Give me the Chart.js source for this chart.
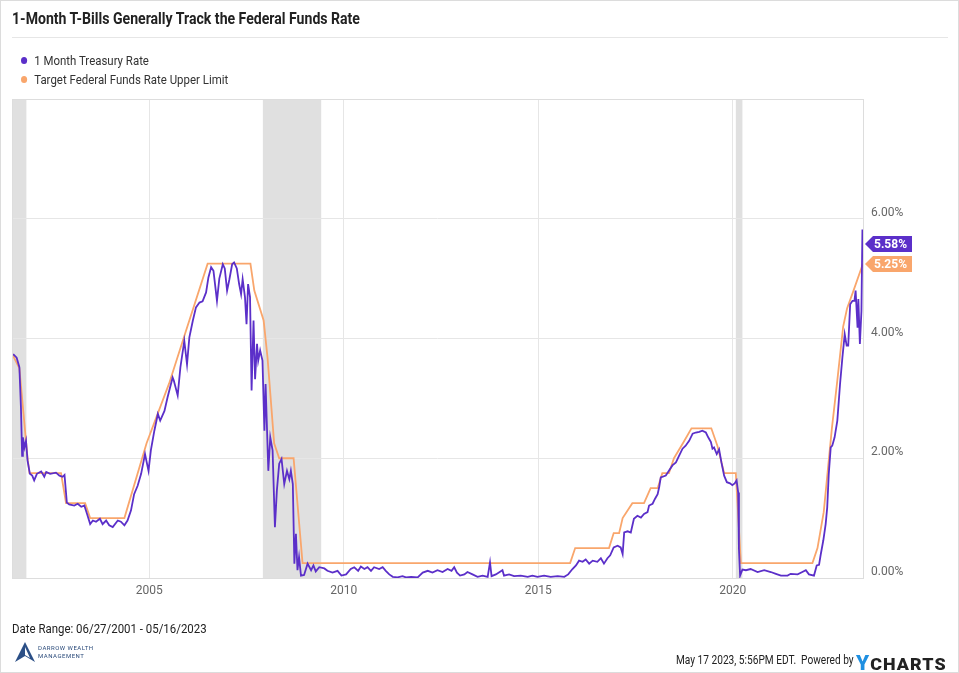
<!DOCTYPE html>
<html>
<head>
<meta charset="utf-8">
<script src="https://cdn.jsdelivr.net/npm/chart.js@4"></script>
<style>
  html, body { margin: 0; padding: 0; background: #fff; }
  #page { position: relative; width: 959px; height: 673px; box-sizing: border-box; border: 1px solid #dcdcdc; font-family: Roboto, sans-serif; color: #222; overflow: hidden; }
  #chart { position: absolute; left: 0; top: 0; }
  .txt { position: absolute; white-space: nowrap; transform-origin: 0 50%; }
  #title { left: 11px; top: 8px; font-size: 16px; font-weight: 700; transform: scaleX(0.88); }
  #rule { position: absolute; left: 11px; top: 36px; width: 936px; height: 1px; background: #e6e6e6; }
  .legend { left: 20px; font-size: 13px; color: #333; transform: scaleX(0.88); }
  .dot { display: inline-block; width: 7px; height: 7px; border-radius: 50%; margin-right: 8px; vertical-align: 1px; }
  #range { left: 11px; top: 620px; font-size: 13px; transform: scaleX(0.88); }
  #stamp { left: 675px; top: 651px; font-size: 13px; transform: scaleX(0.78); }
  #ycharts { position: absolute; left: 855px; top: 650px; font-size: 17px; font-weight: 900; letter-spacing: 1px; transform: scaleX(1.05); transform-origin: 0 50%; }
  #ycharts .y { color: #1e8fe1; font-size: 20px; }
  #darrow { position: absolute; left: 13px; top: 640px; }
  .dw { position: absolute; left: 37px; font-size: 6px; color: #2a4a7a; letter-spacing: 0.5px; }
</style>
</head>
<body>
<div id="page">
  <canvas id="chart" width="959" height="673"></canvas>
  <div id="title" class="txt">1-Month T-Bills Generally Track the Federal Funds Rate</div>
  <div id="rule"></div>
  <div class="txt legend" style="top:52px"><span class="dot" style="background:#5b2fc9"></span>1 Month Treasury Rate</div>
  <div class="txt legend" style="top:71px"><span class="dot" style="background:#f9a66c"></span>Target Federal Funds Rate Upper Limit</div>
  <div id="range" class="txt">Date Range: 06/27/2001 - 05/16/2023</div>
  <svg id="darrow" width="22" height="22" viewBox="0 0 22 22">
    <path d="M11 1 L21 21 L11 15 L1 21 Z" fill="#2b4f86"/>
    <path d="M11 6 L16 17 L11 14 Z" fill="#fff"/>
  </svg>
  <div class="dw" style="top:643px">DARROW WEALTH</div>
  <div class="dw" style="top:651px">MANAGEMENT</div>
  <div id="stamp" class="txt">May 17 2023, 5:56PM EDT.&nbsp; Powered by</div>
  <div id="ycharts"><span class="y">Y</span>CHARTS</div>
</div>
<script>
// 1 Month Treasury Rate (decimal year, percent)
const tbillDates = [
  2001.50, 2001.59, 2001.66, 2001.70, 2001.73, 2001.75, 2001.79, 2001.83, 2001.87, 2001.93,
  2001.99, 2002.04, 2002.11, 2002.22, 2002.30, 2002.35, 2002.45, 2002.60, 2002.69, 2002.77,
  2002.82, 2002.88, 2002.94, 2003.07, 2003.16, 2003.25, 2003.33, 2003.40, 2003.48, 2003.55,
  2003.63, 2003.73, 2003.80, 2003.89, 2003.97, 2004.06, 2004.19, 2004.27, 2004.36, 2004.44,
  2004.53, 2004.61, 2004.70, 2004.79, 2004.89, 2004.98, 2005.04, 2005.13, 2005.22, 2005.28,
  2005.39, 2005.47, 2005.60, 2005.63, 2005.73, 2005.80, 2005.90, 2005.97, 2006.03, 2006.12,
  2006.20, 2006.29, 2006.37, 2006.46, 2006.52, 2006.59, 2006.65, 2006.74, 2006.80, 2006.89,
  2006.94, 2007.00, 2007.06, 2007.13, 2007.18, 2007.25, 2007.31, 2007.36, 2007.40, 2007.46,
  2007.50, 2007.54, 2007.59, 2007.63, 2007.68, 2007.72, 2007.77, 2007.80, 2007.85, 2007.91,
  2007.96, 2007.99, 2008.06, 2008.11, 2008.17, 2008.23, 2008.28, 2008.34, 2008.40, 2008.47,
  2008.54, 2008.60, 2008.64, 2008.69, 2008.73, 2008.77, 2008.81, 2008.85, 2008.90, 2008.98,
  2009.07, 2009.16, 2009.22, 2009.28, 2009.37, 2009.50, 2009.58, 2009.71, 2009.84, 2009.94,
  2010.06, 2010.18, 2010.27, 2010.37, 2010.44, 2010.53, 2010.61, 2010.70, 2010.78, 2010.91,
  2011.00, 2011.08, 2011.17, 2011.26, 2011.38, 2011.51, 2011.60, 2011.73, 2011.90, 2012.03,
  2012.16, 2012.28, 2012.41, 2012.54, 2012.67, 2012.77, 2012.84, 2012.91, 2012.99, 2013.10,
  2013.18, 2013.31, 2013.44, 2013.57, 2013.70, 2013.76, 2013.80, 2013.91, 2014.08, 2014.12,
  2014.25, 2014.38, 2014.55, 2014.73, 2014.85, 2014.98, 2015.15, 2015.32, 2015.50, 2015.67,
  2015.77, 2015.88, 2015.97, 2016.05, 2016.14, 2016.22, 2016.31, 2016.40, 2016.52, 2016.61,
  2016.69, 2016.78, 2016.85, 2016.94, 2017.04, 2017.12, 2017.17, 2017.21, 2017.30, 2017.38,
  2017.46, 2017.55, 2017.64, 2017.72, 2017.81, 2017.85, 2017.94, 2018.00, 2018.07, 2018.11,
  2018.15, 2018.28, 2018.36, 2018.45, 2018.54, 2018.62, 2018.71, 2018.79, 2018.88, 2018.97,
  2019.05, 2019.14, 2019.22, 2019.31, 2019.37, 2019.44, 2019.48, 2019.52, 2019.59, 2019.65,
  2019.71, 2019.78, 2019.85, 2019.93, 2019.99, 2020.05, 2020.10, 2020.14, 2020.16, 2020.19,
  2020.25, 2020.34, 2020.46, 2020.64, 2020.81, 2020.98, 2021.11, 2021.24, 2021.41, 2021.49,
  2021.67, 2021.79, 2021.88, 2021.96, 2022.09, 2022.16, 2022.22, 2022.26, 2022.33, 2022.39,
  2022.43, 2022.47, 2022.52, 2022.56, 2022.62, 2022.69, 2022.76, 2022.82, 2022.88, 2022.93,
  2022.97, 2023.02, 2023.08, 2023.13, 2023.16, 2023.21, 2023.23, 2023.27, 2023.31, 2023.335,
  2023.35
];
const tbillRates = [
  3.74, 3.68, 3.52, 2.85, 2.04, 2.35, 2.18, 2.29, 1.96, 1.74,
  1.71, 1.63, 1.74, 1.78, 1.69, 1.77, 1.74, 1.76, 1.71, 1.69,
  1.72, 1.26, 1.23, 1.21, 1.24, 1.19, 1.21, 1.07, 0.90, 0.96,
  0.94, 0.99, 0.90, 0.96, 0.88, 0.85, 0.96, 0.94, 0.88, 0.96,
  1.13, 1.40, 1.54, 1.74, 2.07, 1.79, 2.13, 2.46, 2.74, 2.63,
  2.79, 3.02, 3.35, 3.30, 3.05, 3.52, 3.96, 3.57, 4.02, 4.30,
  4.52, 4.60, 4.62, 4.77, 5.02, 5.19, 5.13, 4.63, 5.00, 5.24,
  5.17, 4.80, 4.99, 5.24, 5.27, 5.17, 4.91, 4.74, 4.99, 4.69,
  4.24, 4.91, 4.69, 3.13, 4.30, 3.32, 3.91, 3.63, 3.80, 3.63,
  2.46, 3.24, 1.79, 2.35, 2.13, 0.85, 1.46, 1.91, 1.99, 1.57,
  1.79, 1.65, 1.79, 1.57, 0.24, 0.74, 0.13, 0.35, 0.04, 0.05,
  0.24, 0.13, 0.21, 0.11, 0.18, 0.16, 0.12, 0.09, 0.12, 0.04,
  0.06, 0.15, 0.18, 0.12, 0.19, 0.15, 0.18, 0.12, 0.18, 0.15,
  0.18, 0.12, 0.06, 0.02, 0.01, 0.03, 0.01, 0.02, 0.01, 0.09,
  0.12, 0.09, 0.13, 0.10, 0.15, 0.12, 0.18, 0.09, 0.04, 0.06,
  0.10, 0.06, 0.02, 0.04, 0.02, 0.26, 0.03, 0.06, 0.13, 0.04,
  0.06, 0.03, 0.04, 0.02, 0.04, 0.02, 0.04, 0.02, 0.03, 0.02,
  0.06, 0.15, 0.21, 0.29, 0.27, 0.31, 0.24, 0.29, 0.27, 0.33,
  0.24, 0.33, 0.38, 0.51, 0.54, 0.51, 0.40, 0.76, 0.78, 0.76,
  0.99, 1.04, 1.01, 1.07, 1.10, 1.21, 1.24, 1.32, 1.40, 1.52,
  1.68, 1.71, 1.79, 1.88, 1.93, 2.04, 2.16, 2.21, 2.29, 2.41,
  2.43, 2.44, 2.46, 2.43, 2.35, 2.27, 2.16, 2.18, 2.07, 2.15,
  1.93, 1.71, 1.60, 1.58, 1.55, 1.58, 1.63, 1.43, 0.49, 0.04,
  0.14, 0.13, 0.15, 0.10, 0.13, 0.10, 0.07, 0.04, 0.04, 0.07,
  0.06, 0.10, 0.13, 0.06, 0.04, 0.21, 0.22, 0.38, 0.63, 0.90,
  1.18, 1.74, 2.18, 2.21, 2.35, 2.63, 3.24, 3.68, 4.07, 3.88,
  3.88, 4.57, 4.63, 4.63, 4.80, 4.18, 4.66, 3.91, 4.46, 5.82,
  5.58
];

// Target Federal Funds Rate Upper Limit (corners of the line in the picture)
const fedDates = [
  2001.47, 2001.66, 2001.87, 2001.92, 2002.73, 2002.86, 2003.35, 2003.48, 2004.36, 2004.93,
  2005.51, 2005.88, 2006.50, 2007.60, 2007.70, 2007.94, 2008.04, 2008.21, 2008.34, 2008.71,
  2008.94, 2015.82, 2015.95, 2016.82, 2016.94, 2017.08, 2017.17, 2017.42, 2017.72, 2017.89,
  2018.07, 2018.19, 2018.36, 2018.49, 2018.72, 2018.94, 2019.45, 2019.61, 2019.78, 2020.08,
  2020.21, 2022.05, 2022.18, 2022.34, 2022.55, 2022.69, 2022.84, 2022.94, 2023.09, 2023.35
];
const fedRates = [
  3.75, 3.50, 2.00, 1.75, 1.75, 1.25, 1.25, 1.00, 1.00, 2.25,
  3.25, 4.00, 5.25, 5.25, 4.80, 4.30, 3.68, 2.25, 2.00, 2.00,
  0.25, 0.25, 0.50, 0.50, 0.75, 0.75, 1.00, 1.25, 1.25, 1.50,
  1.50, 1.75, 1.75, 2.00, 2.25, 2.50, 2.50, 2.20, 1.75, 1.75,
  0.25, 0.25, 0.50, 1.10, 2.50, 3.30, 4.20, 4.50, 4.77, 5.25
];

// Recessions (shaded)
const recessionStarts = [2001.20, 2007.92, 2020.08];
const recessionEnds = [2001.84, 2009.42, 2020.25];

const yearTicks = [2005, 2010, 2015, 2020];
const rateTicks = [0, 2, 4, 6];

const purple = "#5b2fc9";
const orange = "#f9a66c";

function toPoints(xs, ys) {
  return xs.map((x, i) => ({ x, y: ys[i] }));
}

const recessionBands = {
  id: "recessionBands",
  beforeDraw(chart) {
    const { ctx, chartArea, scales } = chart;
    ctx.save();
    ctx.fillStyle = "#e0e0e0";
    recessionStarts.forEach((start, i) => {
      const x0 = Math.max(scales.x.getPixelForValue(start), chartArea.left);
      const x1 = scales.x.getPixelForValue(recessionEnds[i]);
      ctx.fillRect(x0, chartArea.top, x1 - x0, chartArea.bottom - chartArea.top);
    });
    ctx.restore();
  },
  afterDraw(chart) {
    const { ctx, chartArea } = chart;
    ctx.save();
    ctx.strokeStyle = "#dddddd";
    ctx.lineWidth = 1;
    ctx.strokeRect(chartArea.left + 0.5, chartArea.top + 0.5, chartArea.right - chartArea.left, chartArea.bottom - chartArea.top);
    ctx.restore();
  }
};

// last-value tags at the right edge
const valueTags = {
  id: "valueTags",
  afterDraw(chart) {
    const { ctx, chartArea, scales } = chart;
    ctx.save();
    ctx.font = "bold 12px Roboto";
    ctx.textBaseline = "middle";
    chart.data.datasets.forEach((ds) => {
      const last = ds.data[ds.data.length - 1];
      const y = Math.round(scales.y.getPixelForValue(last.y));
      const x = chartArea.right + 2;
      ctx.fillStyle = ds.borderColor;
      ctx.beginPath();
      ctx.moveTo(x, y);
      ctx.lineTo(x + 8, y - 8);
      ctx.lineTo(x + 47, y - 8);
      ctx.lineTo(x + 47, y + 8);
      ctx.lineTo(x + 8, y + 8);
      ctx.closePath();
      ctx.fill();
      ctx.fillStyle = "#fff";
      ctx.fillText(last.y.toFixed(2) + "%", x + 9, y + 1);
    });
    ctx.restore();
  }
};

new Chart(document.getElementById("chart"), {
  type: "line",
  data: {
    datasets: [
      { label: "1 Month Treasury Rate", data: toPoints(tbillDates, tbillRates), borderColor: purple, borderWidth: 1.8, pointRadius: 0, tension: 0, order: 0 },
      { label: "Target Federal Funds Rate Upper Limit", data: toPoints(fedDates, fedRates), borderColor: orange, borderWidth: 1.8, pointRadius: 0, tension: 0, order: 1 }
    ]
  },
  options: {
    responsive: false,
    animation: false,
    layout: { padding: { top: 98, left: 11, right: 0, bottom: 0 } },
    plugins: { legend: { display: false }, tooltip: { enabled: false } },
    scales: {
      x: {
        type: "linear",
        min: 2001.47,
        max: 2023.35,
        afterBuildTicks: (scale) => { scale.ticks = yearTicks.map((v) => ({ value: v })); },
        afterFit: (scale) => { scale.height = 96; },
        grid: { color: "#e6e6e6", drawTicks: false },
        border: { color: "#d0d0d0" },
        ticks: { padding: 6, color: "#666", font: { family: "Roboto", size: 12 }, callback: (v) => String(v) }
      },
      y: {
        position: "right",
        min: 0,
        max: 8,
        afterBuildTicks: (scale) => { scale.ticks = rateTicks.map((v) => ({ value: v })); },
        afterFit: (scale) => { scale.width = 97; },
        grid: { color: "#e6e6e6", drawTicks: false },
        border: { color: "#dddddd" },
        ticks: { padding: 8, labelOffset: -6, color: "#666", font: { family: "Roboto", size: 12 }, callback: (v) => v.toFixed(2) + "%" }
      }
    }
  },
  plugins: [recessionBands, valueTags]
});
</script>
</body>
</html>
